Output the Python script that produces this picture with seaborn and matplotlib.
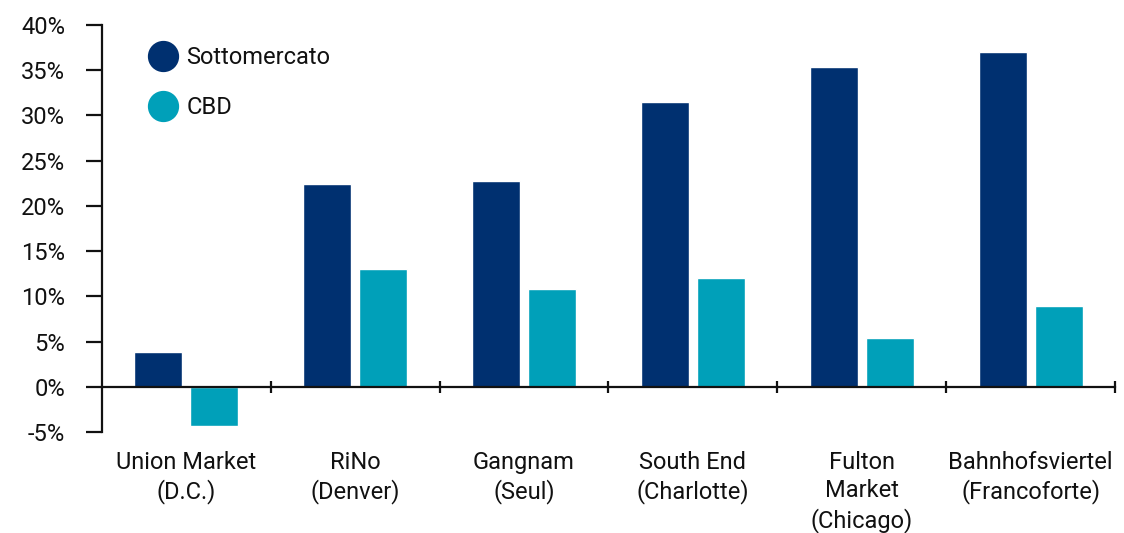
import pandas as pd
import matplotlib.pyplot as plt
import seaborn as sns
from matplotlib.lines import Line2D
from matplotlib.ticker import FixedLocator, FuncFormatter

# data
categories = ['Union Market\n(D.C.)', 'RiNo\n(Denver)', 'Gangnam\n(Seul)',
              'South End\n(Charlotte)', 'Fulton\nMarket\n(Chicago)',
              'Bahnhofsviertel\n(Francoforte)']
sottomercato = [3.9, 22.4, 22.7, 31.5, 35.4, 37.0]
cbd = [-4.3, 13.0, 10.8, 12.0, 5.4, 8.9]
series_names = ['Sottomercato', 'CBD']
colors = ['#003070', '#00A0B9']

df = pd.DataFrame({'Area': categories, 'Sottomercato': sottomercato, 'CBD': cbd})
df = df.melt(id_vars='Area', var_name='Serie', value_name='Valore')

sns.set_style('white')
plt.rcParams['font.family'] = ['Roboto', 'DejaVu Sans']
plt.rcParams['text.color'] = '#111111'

fig = plt.figure(figsize=(11.24, 5.33), dpi=100)
ax = fig.add_axes([0.0907, 0.1895, 0.9013, 0.7636])

sns.barplot(data=df, x='Area', y='Valore', hue='Serie', hue_order=series_names,
            palette=colors, width=0.663, gap=0.143, saturation=1,
            legend=False, ax=ax)

ax.set_xlim(-0.5, 5.5)
ax.set_ylim(-5, 40)
ax.set_xlabel('')
ax.set_ylabel('')

# axes styling
for side in ['top', 'right']:
    ax.spines[side].set_visible(False)
ax.spines['bottom'].set_position(('data', 0))
for side in ['left', 'bottom']:
    ax.spines[side].set_color('#111111')
    ax.spines[side].set_linewidth(1.6)

ax.set_yticks(range(-5, 41, 5))
ax.yaxis.set_major_formatter(FuncFormatter(lambda v, p: f'{v:.0f}%'))
ax.tick_params(axis='y', direction='out', length=11.5, width=1.6,
               color='#111111', labelsize=17, labelcolor='#111111', pad=15, left=True)

ax.set_xticks(range(len(categories)))
ax.set_xticklabels(categories, fontsize=17, linespacing=1.3, va='top', color='#111111')
ax.tick_params(axis='x', which='major', length=0, pad=46, bottom=True)
ax.xaxis.set_minor_locator(FixedLocator([0.5, 1.5, 2.5, 3.5, 4.5, 5.5]))
ax.tick_params(axis='x', which='minor', direction='inout', length=9,
               width=1.6, color='#111111', bottom=True)

handles = [Line2D([], [], marker='o', linestyle='', markersize=21.5,
                  markerfacecolor=c, markeredgecolor=c) for c in colors]
ax.legend(handles, series_names, loc='upper left', bbox_to_anchor=(0.025, 1.0),
          frameon=False, fontsize=17, labelspacing=1.15, handletextpad=0.4,
          handlelength=1.2)

plt.savefig('out.png', dpi=100)
plt.close()
